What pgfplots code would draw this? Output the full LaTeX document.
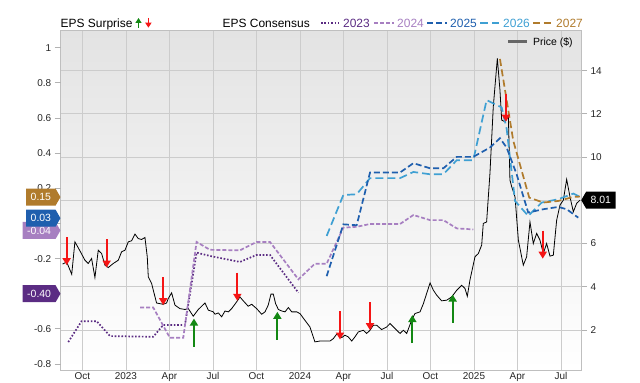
\documentclass[border=0pt]{standalone}
\usepackage{fontspec}
\setmainfont{Liberation Sans}
\usepackage{pgfplots}
\pgfplotsset{compat=1.18}
\usetikzlibrary{arrows.meta,shapes.symbols}
\definecolor{c23}{HTML}{5B2C83}
\definecolor{c24}{HTML}{A77FC1}
\definecolor{c25}{HTML}{1F5FAE}
\definecolor{c26}{HTML}{3FA0D3}
\definecolor{c27}{HTML}{B07B2C}
\definecolor{cgreen}{HTML}{138813}
\definecolor{cred}{HTML}{F51515}
\newcommand{\tickfont}{\fontsize{10}{11}\selectfont}
\newcommand{\legfont}{\fontsize{12}{13}\selectfont}
\begin{document}
\begin{tikzpicture}[x=1bp,y=1bp]
\useasboundingbox (0,0) rectangle (640,382);
\pgfplotsset{base/.style={scale only axis, width=520.3bp, height=339.3bp,
  at={(60.7bp,12bp)}, anchor=south west, xmin=-4.5, xmax=31.38,
  /pgf/number format/assume math mode=true,
  ticklabel style={font=\tickfont, text=black!85}}}
% ---------- axis 1: price, background and grids
\begin{axis}[base, ymin=0.149, ymax=15.85,
  axis background/.style={top color=black!11, middle color=white, bottom color=white},
  xtick={-3,0,...,30}, xticklabels={}, xmajorgrids, xtick style={draw=none},
  ytick={2,4,6,8,10,12,14}, yticklabels={2,4,6,8,10,12,14}, ymajorgrids,
  grid style={draw=black!20, line width=0.8bp},
  ytick pos=right, yticklabel pos=right,
  tick align=outside, major tick length=6bp,
  ytick style={draw=black!30, line width=0.8bp},
  axis line style={draw=black!25, line width=0.8bp}]
\addplot[black, line width=0.8bp] table {
-4.37 5.05
-4.09 5.15
-3.74 4.58
-3.52 6.08
-3.17 5.66
-2.83 5.23
-2.6 5.08
-2.37 5.31
-2.14 4.43
-1.91 5.69
-1.68 5.54
-1.45 5.0
-1.22 4.89
-0.87 5.08
-0.53 5.23
-0.3 5.62
-0.07 5.69
0.16 6.08
0.39 6.13
0.62 6.44
0.85 6.23
1.08 6.19
1.31 6.28
1.47 5.38
1.54 4.46
1.77 4.15
2.11 3.25
2.57 3.19
2.8 3.25
2.92 3.46
3.15 3.72
3.38 3.15
3.72 2.99
4.07 2.95
4.3 2.99
4.64 2.64
4.99 2.95
5.22 3.1
5.45 3.25
5.68 2.92
6.02 2.84
6.14 2.73
6.37 2.79
6.6 2.61
6.83 2.88
7.06 2.84
7.29 2.99
7.63 3.3
7.86 3.53
8.09 3.35
8.43 3.1
8.67 3.19
9.01 2.99
9.36 2.73
9.59 2.84
9.81 3.15
10.0 3.66
10.16 3.66
10.32 3.22
10.51 2.95
10.74 2.88
10.97 2.84
11.2 3.04
11.43 2.84
11.77 2.84
12.0 2.76
12.34 2.45
12.69 2.14
13.03 1.45
13.38 1.49
13.72 1.49
14.07 1.49
14.3 1.6
14.53 1.81
14.71 1.76
14.88 1.65
15.1 1.76
15.33 1.68
15.57 1.49
15.79 1.68
16.02 1.91
16.37 1.99
16.6 1.84
16.83 1.99
17.06 2.22
17.29 2.22
17.63 2.02
17.98 2.14
18.21 2.3
18.55 2.07
18.9 1.84
19.13 1.99
19.36 1.84
19.7 2.45
19.93 2.76
20.28 2.84
20.51 3.22
20.97 4.18
21.2 3.84
21.43 3.61
21.77 3.35
22.12 3.38
22.46 3.53
22.81 3.84
23.15 4.07
23.38 3.92
23.54 3.56
23.72 4.31
24.07 5.39
24.3 5.54
24.53 5.93
24.64 6.93
24.87 7.0
25.1 9.24
25.33 12.33
25.61 14.57
25.79 13.1
25.91 11.71
26.14 11.64
26.37 11.88
26.48 8.94
26.6 8.63
26.83 8.16
27.06 6.16
27.4 5.0
27.63 5.39
27.86 7.0
28.09 6.0
28.32 6.47
28.55 6.16
28.78 5.54
29.01 6.0
29.24 5.42
29.47 5.46
29.7 7.08
29.93 7.78
30.16 8.01
30.39 8.97
30.62 8.16
30.85 7.47
31.08 7.86
31.31 8.01
};
\coordinate (ptag) at (axis cs:31.38,8.01);
\end{axis}
% ---------- axis 2: EPS consensus
\begin{axis}[base, ymin=-0.834, ymax=1.097, axis line style={draw=none},
  xtick={-3,0,...,30}, xticklabels={Oct,2023,Apr,Jul,Oct,2024,Apr,Jul,Oct,2025,Apr,Jul},
  xtick style={draw=none},
  ytick={-0.8,-0.6,-0.4,-0.2,0,0.2,0.4,0.6,0.8,1},
  yticklabels={-0.8,-0.6,-0.4,-0.2,0,0.2,0.4,0.6,0.8,1},
  ytick pos=left, tick align=outside, major tick length=6bp,
  ytick style={draw=black!30, line width=0.8bp},
  xticklabel style={yshift=7bp}]
\addplot[c23, line width=1.7bp, dash pattern=on 1.6bp off 1.8bp] table {
-3.98 -0.675
-3.06 -0.556
-2.02 -0.556
-1.1 -0.641
1.88 -0.645
2.57 -0.578
4.07 -0.578
4.87 -0.166
5.79 -0.185
7.86 -0.219
9.01 -0.179
9.93 -0.179
11.89 -0.394
};
\addplot[c24, line width=1.7bp, dash pattern=on 4bp off 2bp] table {
0.97 -0.478
1.88 -0.478
3.03 -0.651
3.95 -0.651
4.87 -0.105
5.79 -0.15
7.86 -0.153
9.01 -0.105
9.93 -0.105
11.89 -0.318
13.03 -0.229
13.84 -0.229
14.99 -0.024
15.91 -0.019
16.83 -0.003
18.9 -0.003
19.82 0.048
20.97 0.019
21.89 0.019
22.81 -0.028
23.95 -0.034
};
\addplot[c26, line width=1.7bp, dash pattern=on 8bp off 4bp] table {
13.84 -0.071
14.99 0.162
15.91 0.166
16.83 0.258
18.9 0.258
19.82 0.293
20.97 0.28
21.89 0.28
22.81 0.36
23.95 0.36
24.87 0.702
25.91 0.66
26.25 0.54
26.83 0.128
27.74 0.043
28.67 0.119
29.81 0.138
30.85 0.17
31.31 0.151
};
\addplot[c25, line width=1.7bp, dash pattern=on 6bp off 3bp] table {
13.84 -0.3
14.99 -0.005
15.91 -0.01
16.83 0.29
18.9 0.29
19.82 0.343
20.97 0.314
21.89 0.314
22.81 0.379
23.95 0.379
25.1 0.432
25.79 0.485
26.25 0.432
26.94 0.28
27.74 0.062
28.78 0.081
29.81 0.094
30.39 0.081
31.19 0.033
};
\addplot[c27, line width=1.7bp, dash pattern=on 7bp off 3.5bp] table {
25.79 0.936
26.71 0.47
27.81 0.147
28.78 0.119
29.81 0.128
30.85 0.151
31.31 0.153
};
\coordinate (t23) at (axis cs:-4.5,-0.40);
\coordinate (t24) at (axis cs:-4.5,-0.04);
\coordinate (t25) at (axis cs:-4.5,0.03);
\coordinate (t27) at (axis cs:-4.5,0.15);
\end{axis}
% ---------- axis 3: EPS surprise arrows (price scale)
\begin{axis}[base, ymin=0.149, ymax=15.85, hide axis]
\addplot[cred, line width=2bp, quiver={u=0,v=\thisrow{v}},
  -{Triangle[width=8bp,length=7bp]}] table[x=x,y=y] {
x y v
-4.09 6.30 -1.3
-1.33 6.19 -1.3
2.57 4.45 -1.3
7.68 4.65 -1.3
14.76 2.86 -1.3
16.83 3.29 -1.3
26.2 12.94 -1.3
28.74 6.6 -1.3
};
\addplot[cgreen, line width=2bp, quiver={u=0,v=\thisrow{v}},
  -{Triangle[width=8bp,length=7bp]}] table[x=x,y=y] {
x y v
4.69 1.23 1.3
10.44 1.54 1.3
19.75 1.39 1.3
22.53 2.34 1.3
};
\end{axis}
% ---------- value tags
\tikzset{tag/.style={shape=signal, signal to=east, signal pointer angle=120,
  text=white, font=\fontsize{10.5}{11}\selectfont, minimum height=17bp,
  inner xsep=4.5bp, inner ysep=0bp, anchor=east}}
\node[tag, fill=c23] at (t23) {-0.40};
\node[tag, fill=c24] at (t24) {-0.04};
\node[tag, fill=c25] at (t25) {0.03};
\node[tag, fill=c27] at (t27) {0.15};
\node[tag, fill=black, signal to=west, anchor=west] at (ptag) {8.01};
% ---------- legend
\node[anchor=base west, inner sep=0, font=\legfont] at (60.5,354.7) {EPS Surprise};
\draw[cgreen, line width=1.6bp, -{Triangle[width=6bp,length=5bp]}] (138.5,354.3) -- (138.5,364);
\draw[cred, line width=1.6bp, -{Triangle[width=6bp,length=5bp]}] (148.4,364) -- (148.4,354.3);
\node[anchor=base west, inner sep=0, font=\legfont] at (222.5,354.7) {EPS Consensus};
\draw[c23, line width=1.7bp, dash pattern=on 1.6bp off 1.8bp] (321,358.7) -- (339,358.7);
\node[anchor=base west, inner sep=0, text=c23, font=\legfont] at (343,354.7) {2023};
\draw[c24, line width=1.7bp, dash pattern=on 4bp off 2bp] (374,358.7) -- (394,358.7);
\node[anchor=base west, inner sep=0, text=c24, font=\legfont] at (397,354.7) {2024};
\draw[c25, line width=1.7bp, dash pattern=on 6bp off 3bp] (427,358.7) -- (447,358.7);
\node[anchor=base west, inner sep=0, text=c25, font=\legfont] at (450,354.7) {2025};
\draw[c26, line width=1.7bp, dash pattern=on 8bp off 4bp] (480,358.7) -- (499,358.7);
\node[anchor=base west, inner sep=0, text=c26, font=\legfont] at (503,354.7) {2026};
\draw[c27, line width=1.7bp, dash pattern=on 7bp off 3.5bp] (533,358.7) -- (553,358.7);
\node[anchor=base west, inner sep=0, text=c27, font=\legfont] at (556,354.7) {2027};
\draw[black!60, line width=2.5bp] (508,340.3) -- (527,340.3);
\node[anchor=base west, inner sep=0, font=\fontsize{10.5}{11}\selectfont] at (533,336.5) {Price (\$)};
\end{tikzpicture}
\end{document}
